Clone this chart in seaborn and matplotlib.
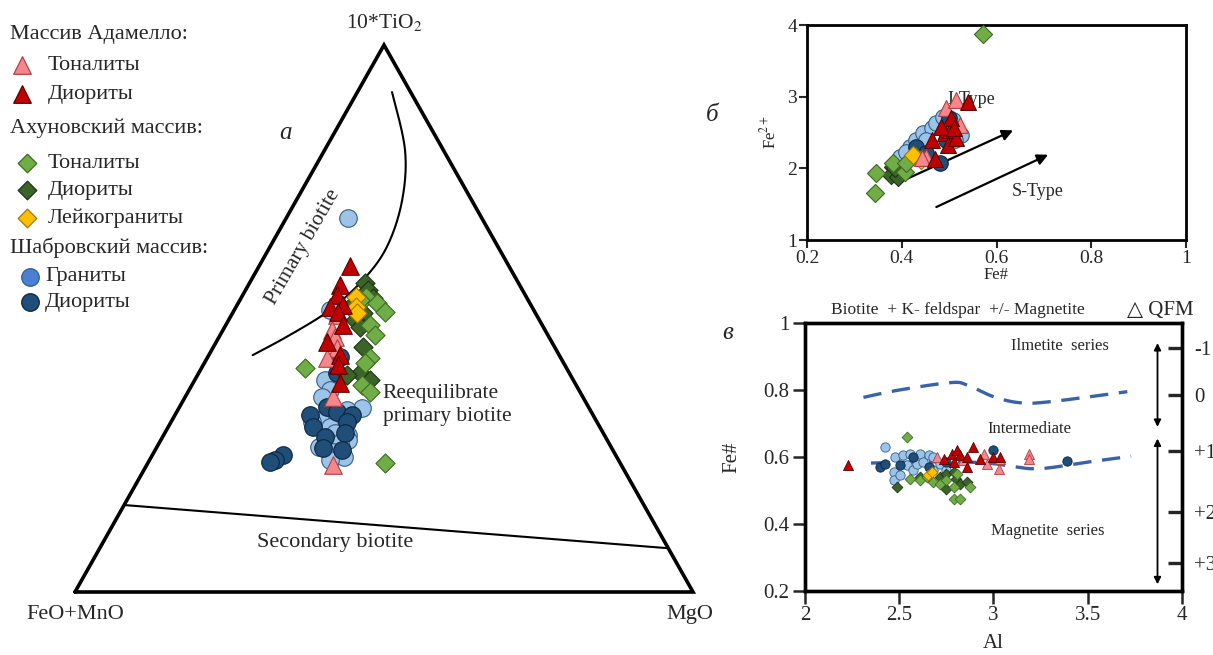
import numpy as np
import pandas as pd
import matplotlib
matplotlib.use('Agg')
import matplotlib.pyplot as plt
import seaborn as sns

W, H = 1213, 655

# ---- ternary (а): fractions of 10*TiO2 (t) and MgO (m), FeO+MnO is the rest
tern_adam_ton_t = [0.525, 0.506, 0.479, 0.466, 0.446, 0.428, 0.356, 0.232]
tern_adam_ton_m = [0.169, 0.171, 0.177, 0.188, 0.201, 0.194, 0.239, 0.301]
tern_adam_dio_t = [0.596, 0.561, 0.543, 0.525, 0.521, 0.512, 0.488, 0.457, 0.433, 0.415, 0.382]
tern_adam_dio_m = [0.147, 0.148, 0.152, 0.171, 0.152, 0.170, 0.190, 0.179, 0.212, 0.218, 0.238]
tern_akh_ton_t = [0.539, 0.534, 0.528, 0.512, 0.488, 0.470, 0.428, 0.419, 0.410, 0.378, 0.366, 0.236]
tern_akh_ton_m = [0.202, 0.194, 0.225, 0.246, 0.233, 0.250, 0.263, 0.260, 0.167, 0.275, 0.294, 0.384]
tern_akh_dio_t = [0.565, 0.552, 0.537, 0.521, 0.510, 0.497, 0.484, 0.448, 0.400, 0.397, 0.388]
tern_akh_dio_m = [0.186, 0.198, 0.213, 0.184, 0.211, 0.204, 0.219, 0.242, 0.261, 0.242, 0.283]
tern_akh_leu_t = [0.539, 0.521, 0.510]
tern_akh_leu_m = [0.186, 0.195, 0.201]
tern_shab_gr_t = [0.684, 0.516, 0.388, 0.369, 0.356, 0.336, 0.333, 0.333, 0.314, 0.314, 0.311,
                  0.302, 0.291, 0.287, 0.278, 0.278, 0.272, 0.265, 0.256, 0.247, 0.241]
tern_shab_gr_m = [0.100, 0.155, 0.211, 0.228, 0.222, 0.296, 0.251, 0.274, 0.239, 0.272, 0.228,
                  0.262, 0.276, 0.298, 0.269, 0.303, 0.293, 0.263, 0.289, 0.311, 0.292]
tern_shab_dio_t = [0.430, 0.400, 0.338, 0.329, 0.324, 0.324, 0.311, 0.302, 0.291, 0.283, 0.263,
                   0.260, 0.250, 0.241, 0.238]
tern_shab_dio_m = [0.214, 0.224, 0.239, 0.259, 0.218, 0.286, 0.285, 0.234, 0.292, 0.263, 0.269,
                   0.302, 0.212, 0.203, 0.197]

# field boundaries of the ternary
prim_t = [0.914, 0.808, 0.717, 0.634, 0.574, 0.516, 0.470, 0.433]
prim_m = [0.056, 0.130, 0.171, 0.189, 0.182, 0.155, 0.113, 0.071]
sec_t = [0.159, 0.080]
sec_m = [0.0, 0.920]

# ---- panel б: Fe# vs Fe2+
b_adam_ton_x = [0.494, 0.515, 0.522, 0.452, 0.442]
b_adam_ton_y = [2.84, 2.95, 2.60, 2.16, 2.14]
b_adam_dio_x = [0.463, 0.470, 0.491, 0.501, 0.504, 0.497, 0.515, 0.539, 0.483, 0.510]
b_adam_dio_y = [2.40, 2.13, 2.49, 2.53, 2.70, 2.33, 2.42, 2.93, 2.58, 2.56]
b_akh_ton_x = [0.572, 0.346, 0.343, 0.406, 0.382, 0.410]
b_akh_ton_y = [3.87, 1.93, 1.66, 1.95, 2.07, 2.07]
b_akh_dio_x = [0.382, 0.378, 0.392, 0.385]
b_akh_dio_y = [2.02, 1.91, 1.88, 2.00]
b_akh_leu_x = [0.431, 0.441, 0.424]
b_akh_leu_y = [2.16, 2.12, 2.19]
b_shab_gr_x = [0.396, 0.417, 0.431, 0.445, 0.463, 0.473, 0.487, 0.508, 0.526, 0.512, 0.410, 0.452]
b_shab_gr_y = [2.16, 2.30, 2.40, 2.49, 2.56, 2.63, 2.72, 2.67, 2.47, 2.40, 2.23, 2.40]
b_shab_dio_x = [0.480, 0.431, 0.494, 0.452, 0.500]
b_shab_dio_y = [2.07, 2.30, 2.40, 2.21, 2.70]
b_arrow_i = [(0.40, 1.82), (0.635, 2.53)]
b_arrow_s = [(0.473, 1.46), (0.709, 2.19)]

# ---- panel в: Al vs Fe#
v_adam_ton_x = [2.70, 2.84, 2.947, 2.965, 3.035, 3.03, 3.186, 3.186]
v_adam_ton_y = [0.60, 0.59, 0.61, 0.58, 0.595, 0.565, 0.61, 0.595]
v_adam_dio_x = [2.23, 2.74, 2.78, 2.79, 2.805, 2.82, 2.86, 2.86, 2.89, 2.93, 3.0, 3.035]
v_adam_dio_y = [0.575, 0.595, 0.61, 0.585, 0.62, 0.605, 0.60, 0.57, 0.63, 0.595, 0.60, 0.60]
v_akh_ton_x = [2.54, 2.557, 2.61, 2.646, 2.68, 2.717, 2.75, 2.79, 2.805, 2.876, 2.79, 2.823]
v_akh_ton_y = [0.66, 0.535, 0.53, 0.54, 0.525, 0.52, 0.53, 0.51, 0.55, 0.51, 0.475, 0.475]
v_akh_dio_x = [2.487, 2.61, 2.717, 2.75, 2.75, 2.79, 2.80, 2.823, 2.86]
v_akh_dio_y = [0.51, 0.54, 0.54, 0.55, 0.505, 0.555, 0.535, 0.52, 0.525]
v_akh_leu_x = [2.655, 2.672]
v_akh_leu_y = [0.545, 0.555]
v_shab_gr_x = [2.425, 2.478, 2.47, 2.47, 2.504, 2.52, 2.54, 2.557, 2.575, 2.593, 2.61, 2.628,
               2.66, 2.68, 2.68, 2.717, 2.75]
v_shab_gr_y = [0.63, 0.60, 0.555, 0.53, 0.545, 0.605, 0.575, 0.61, 0.56, 0.58, 0.61, 0.585,
               0.605, 0.60, 0.56, 0.58, 0.56]
v_shab_dio_x = [2.40, 2.425, 2.504, 2.575, 2.66, 2.75, 3.0, 3.39]
v_shab_dio_y = [0.57, 0.58, 0.575, 0.60, 0.57, 0.585, 0.62, 0.588]

ilm_al = [2.31, 2.50, 2.77, 2.86, 3.0, 3.14, 3.30, 3.71]
ilm_fe = [0.778, 0.80, 0.822, 0.815, 0.78, 0.762, 0.765, 0.795]
mag_al = [2.35, 2.6, 2.85, 3.0, 3.1, 3.2, 3.3, 3.5, 3.73]
mag_fe = [0.582, 0.585, 0.585, 0.58, 0.572, 0.565, 0.568, 0.585, 0.602]

qfm_pos = [0.925, 0.785, 0.617, 0.435, 0.285]
qfm_labels = ['-1', '0', '+1', '+2', '+3']

# group styles: marker, face, edge
styles = {
    'shab_gr': ('o', '#9dc3e6', '#2f5f8f'),
    'shab_dio': ('o', '#1f4e79', '#0d2640'),
    'akh_dio': ('D', '#3b6428', '#1e3315'),
    'akh_ton': ('D', '#70ad47', '#3d6b22'),
    'akh_leu': ('D', '#ffc000', '#a07800'),
    'adam_ton': ('^', '#f4868c', '#b04040'),
    'adam_dio': ('^', '#c00000', '#5a0000'),
}
order = ['shab_gr', 'shab_dio', 'akh_dio', 'akh_ton', 'akh_leu', 'adam_ton', 'adam_dio']

tern_data = {
    'adam_ton': (tern_adam_ton_t, tern_adam_ton_m), 'adam_dio': (tern_adam_dio_t, tern_adam_dio_m),
    'akh_ton': (tern_akh_ton_t, tern_akh_ton_m), 'akh_dio': (tern_akh_dio_t, tern_akh_dio_m),
    'akh_leu': (tern_akh_leu_t, tern_akh_leu_m), 'shab_gr': (tern_shab_gr_t, tern_shab_gr_m),
    'shab_dio': (tern_shab_dio_t, tern_shab_dio_m),
}
b_data = {
    'adam_ton': (b_adam_ton_x, b_adam_ton_y), 'adam_dio': (b_adam_dio_x, b_adam_dio_y),
    'akh_ton': (b_akh_ton_x, b_akh_ton_y), 'akh_dio': (b_akh_dio_x, b_akh_dio_y),
    'akh_leu': (b_akh_leu_x, b_akh_leu_y), 'shab_gr': (b_shab_gr_x, b_shab_gr_y),
    'shab_dio': (b_shab_dio_x, b_shab_dio_y),
}
v_data = {
    'adam_ton': (v_adam_ton_x, v_adam_ton_y), 'adam_dio': (v_adam_dio_x, v_adam_dio_y),
    'akh_ton': (v_akh_ton_x, v_akh_ton_y), 'akh_dio': (v_akh_dio_x, v_akh_dio_y),
    'akh_leu': (v_akh_leu_x, v_akh_leu_y), 'shab_gr': (v_shab_gr_x, v_shab_gr_y),
    'shab_dio': (v_shab_dio_x, v_shab_dio_y),
}


def tern_xy(t, m):
    t = np.asarray(t, float)
    m = np.asarray(m, float)
    return m + t / 2, t


def smooth(x, y, n=20):
    # catmull-rom through the given points
    p = np.column_stack([x, y])
    p = np.vstack([p[0], p, p[-1]])
    out = []
    for i in range(1, len(p) - 2):
        p0, p1, p2, p3 = p[i - 1], p[i], p[i + 1], p[i + 2]
        for s in np.linspace(0, 1, n, endpoint=False):
            out.append(0.5 * (2 * p1 + (-p0 + p2) * s + (2 * p0 - 5 * p1 + 4 * p2 - p3) * s ** 2
                              + (-p0 + 3 * p1 - 3 * p2 + p3) * s ** 3))
    out.append(p[-2])
    out = np.array(out)
    return out[:, 0], out[:, 1]


def scatter_groups(ax, data, sizes, lw=0.8):
    for g in order:
        x, y = data[g]
        mk, fc, ec = styles[g]
        df = pd.DataFrame({'x': x, 'y': y})
        sns.scatterplot(data=df, x='x', y='y', marker=mk, s=sizes[mk], color=fc,
                        edgecolor=ec, linewidth=lw, ax=ax, legend=False, zorder=3,
                        clip_on=False)


sns.set_style('white')
plt.rcParams['font.family'] = ['Liberation Serif', 'DejaVu Serif']
plt.rcParams['mathtext.fontset'] = 'stix'

fig = plt.figure(figsize=(W / 100, H / 100), dpi=100)

# ---------------- ternary
tern = fig.add_axes([75 / W, (H - 592) / H, 618 / W, 547 / H])
tern.set_xlim(0, 1)
tern.set_ylim(0, 1)
tern.axis('off')
tern.plot([0, 1, 0.5, 0], [0, 0, 1, 0], color='black', lw=2.6, clip_on=False,
          solid_joinstyle='miter')
px, py = tern_xy(prim_t, prim_m)
px, py = smooth(px, py)
tern.plot(px, py, color='black', lw=1.5)
sx, sy = tern_xy(sec_t, sec_m)
tern.plot(sx, sy, color='black', lw=1.5)
tern_xy_data = {g: tern_xy(*tern_data[g]) for g in tern_data}
scatter_groups(tern, tern_xy_data, {'o': 160, 'D': 95, '^': 160})

tern.text(0.5, 1.042, '10*TiO$_2$', ha='center', va='center', fontsize=15.5)
tern.text(0.0, -0.042, 'FeO+MnO', ha='center', va='center', fontsize=16)
tern.text(0.995, -0.042, 'MgO', ha='center', va='center', fontsize=16)
tern.text(0.370, 0.630, 'Primary biotite', ha='center', va='center', fontsize=15.5,
          rotation=60)
tern.text(0.498, 0.342, 'Reequilibrate\nprimary biotite', ha='left', va='center',
          fontsize=15.5, linespacing=1.25)
tern.text(0.421, 0.09, 'Secondary biotite', ha='center', va='center', fontsize=16)

# ---------------- panel б
axb = fig.add_axes([807 / W, (H - 240) / H, 379 / W, 215 / H])
scatter_groups(axb, b_data, {'o': 125, 'D': 85, '^': 130})
for (x0, y0), (x1, y1) in [b_arrow_i, b_arrow_s]:
    axb.annotate('', xy=(x1, y1), xytext=(x0, y0),
                 arrowprops=dict(arrowstyle='-|>', color='black', lw=1.6,
                                 mutation_scale=16, shrinkA=0, shrinkB=0), zorder=2)
axb.text(0.547, 2.96, 'I-Type', ha='center', va='center', fontsize=13, zorder=2)
axb.text(0.686, 1.67, 'S-Type', ha='center', va='center', fontsize=13)
axb.set_xlim(0.2, 1)
axb.set_ylim(1, 4)
axb.set_xticks([0.2, 0.4, 0.6, 0.8, 1.0])
axb.set_xticklabels(['0.2', '0.4', '0.6', '0.8', '1'])
axb.set_yticks([1, 2, 3, 4])
axb.tick_params(direction='out', length=6, width=1.5, labelsize=14, pad=1,
                left=True, bottom=True)
axb.set_xlabel('Fe#', fontsize=12, labelpad=0)
axb.set_ylabel('Fe$^{2+}$', fontsize=12, labelpad=6)
for sp in axb.spines.values():
    sp.set_linewidth(2)
    sp.set_color('black')

# ---------------- panel в
axv = fig.add_axes([805 / W, (H - 591) / H, 377 / W, 268 / H])
for xs, ys in [(ilm_al, ilm_fe), (mag_al, mag_fe)]:
    cx, cy = smooth(xs, ys)
    axv.plot(cx, cy, color='#3a62a8', lw=2.4, ls=(0, (5.5, 3.2)), zorder=1)
scatter_groups(axv, v_data, {'o': 45, 'D': 30, '^': 52}, lw=0.6)
axv.annotate('', xy=(3.87, 0.69), xytext=(3.87, 0.94),
             arrowprops=dict(arrowstyle='<|-|>', color='black', lw=1.3,
                             mutation_scale=10, shrinkA=0, shrinkB=0))
axv.annotate('', xy=(3.87, 0.22), xytext=(3.87, 0.655),
             arrowprops=dict(arrowstyle='<|-|>', color='black', lw=1.3,
                             mutation_scale=10, shrinkA=0, shrinkB=0))
axv.text(3.35, 0.93, 'Ilmetite  series', ha='center', va='center', fontsize=12)
axv.text(3.19, 0.685, 'Intermediate', ha='center', va='center', fontsize=12)
axv.text(3.29, 0.38, 'Magnetite  series', ha='center', va='center', fontsize=12)
axv.set_xlim(2, 4)
axv.set_ylim(0.2, 1)
axv.set_xticks([2, 2.5, 3, 3.5, 4])
axv.set_xticklabels(['2', '2.5', '3', '3.5', '4'])
axv.set_yticks([0.2, 0.4, 0.6, 0.8, 1.0])
axv.set_yticklabels(['0.2', '0.4', '0.6', '0.8', '1'])
axv.tick_params(direction='out', length=9, width=1.8, labelsize=15, pad=2,
                left=True, bottom=True)
axv.set_xlabel('Al', fontsize=15, labelpad=6)
axv.set_ylabel('Fe#', fontsize=15, labelpad=16)
for sp in axv.spines.values():
    sp.set_linewidth(2.4)
    sp.set_color('black')
ax2 = axv.twinx()
ax2.set_ylim(axv.get_ylim())
ax2.set_yticks(qfm_pos)
ax2.set_yticklabels(qfm_labels)
ax2.tick_params(axis='y', direction='in', length=10, width=2.4, labelsize=15, pad=9,
                right=True)
for sp in ax2.spines.values():
    sp.set_linewidth(2.4)
    sp.set_color('black')

# ---------------- legend and panel letters (pixel layout)
ov = fig.add_axes([0, 0, 1, 1])
ov.set_xlim(0, W)
ov.set_ylim(H, 0)
ov.axis('off')
ov.set_zorder(5)

headers = [('Массив Адамелло:', 35), ('Ахуновский массив:', 128), ('Шабровский массив:', 248)]
for txt, y in headers:
    ov.text(10, y, txt, ha='left', va='center', fontsize=16)
leg_rows = [
    ('adam_ton', 'Тоналиты', 22, 65, 48, None), ('adam_dio', 'Диориты', 22, 94, 48, None),
    ('akh_ton', 'Тоналиты', 27, 163, 48, None), ('akh_dio', 'Диориты', 27, 190, 48, None),
    ('akh_leu', 'Лейкограниты', 27, 218, 48, None),
    ('shab_gr', 'Граниты', 30, 277, 45, '#4a7fd4'), ('shab_dio', 'Диориты', 30, 302, 45, None),
]
leg_sizes = {'o': 160, 'D': 90, '^': 160}
for g, lab, mx, my, tx, fc_override in leg_rows:
    mk, fc, ec = styles[g]
    ov.scatter([mx], [my], marker=mk, s=leg_sizes[mk], color=fc_override or fc,
               edgecolor=ec, linewidth=0.9)
    ov.text(tx, my, lab, ha='left', va='center', fontsize=16)

ov.text(285, 133, 'а', ha='center', va='center', fontsize=18, style='italic')
ov.text(712, 115, 'б', ha='center', va='center', fontsize=18, style='italic')
ov.text(728, 333, 'в', ha='center', va='center', fontsize=18, style='italic')
ov.text(958, 310, 'Biotite  + K- feldspar  +/- Magnetite', ha='center', va='center',
        fontsize=12.5)
ov.text(1160, 310, '△ QFM', ha='center', va='center', fontsize=15,
        family=['Liberation Serif', 'DejaVu Sans'])

fig.savefig('out.png', dpi=100)
